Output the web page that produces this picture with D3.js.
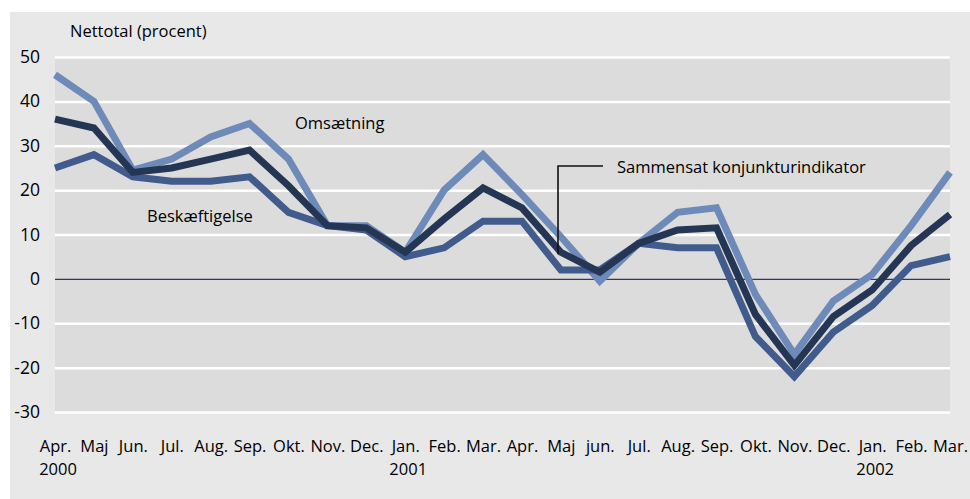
<!DOCTYPE html>
<html>
<head>
<meta charset="utf-8">
<script src="https://cdn.jsdelivr.net/npm/d3@7"></script>
<style>
  body { margin: 0; background: #fff; }
  svg text { font-family: "Open Sans", "Noto Sans", sans-serif; fill: #000; }
</style>
</head>
<body>
<script>
// months Apr 2000 .. Mar 2002
const monthLabels = ["Apr.", "Maj", "Jun.", "Jul.", "Aug.", "Sep.", "Okt.", "Nov.", "Dec.",
  "Jan.", "Feb.", "Mar.", "Apr.", "Maj", "jun.", "Jul.", "Aug.", "Sep.", "Okt.", "Nov.", "Dec.",
  "Jan.", "Feb.", "Mar."];
const yearLabels = ["2000", "2001", "2002"];
const yearAtMonth = [0, 9, 21];
const yTicks = [50, 40, 30, 20, 10, 0, -10, -20, -30];

const omsaetning    = [46, 40, 24.5, 27, 32, 35, 27, 12, 12, 6, 20, 28, 19, 9.5, -0.5, 8, 15, 16, -3.5, -17, -5, 1, 12, 24];
const sammensat     = [36, 34, 24, 25, 27, 29, 21, 12, 11.5, 6, 13.5, 20.5, 16, 6, 1.5, 8, 11, 11.5, -8, -19.5, -8.5, -2.5, 7.5, 14.5];
const beskaeftigelse = [25, 28, 23, 22, 22, 23, 15, 12, 11, 5, 7, 13, 13, 2, 2, 8, 7, 7, -13, -22, -12, -6, 3, 5];

const W = 970, H = 499;
const plot = {left: 55, right: 950, top: 57, bottom: 412};

const svg = d3.select("body").append("svg")
    .attr("width", W)
    .attr("height", H);

// outer grey panel
svg.append("rect")
    .attr("x", 10).attr("y", 12)
    .attr("width", W - 10).attr("height", H - 12)
    .attr("fill", "#e8e8e8");

// plot background
svg.append("rect")
    .attr("x", plot.left).attr("y", plot.top)
    .attr("width", plot.right - plot.left).attr("height", plot.bottom - plot.top)
    .attr("fill", "#dcdcdc");

const x = d3.scalePoint()
    .domain(d3.range(monthLabels.length))
    .range([plot.left, plot.right]);

const y = d3.scaleLinear()
    .domain([-30, 50])
    .range([plot.bottom, plot.top]);

// gridlines
const grid = svg.append("g")
    .attr("transform", `translate(${plot.left},0)`)
    .call(d3.axisLeft(y).tickValues(yTicks).tickSize(-(plot.right - plot.left)).tickFormat(""));
grid.select(".domain").remove();
grid.selectAll(".tick line")
    .attr("stroke", d => d === 0 ? "#2e3b58" : "#ffffff")
    .attr("stroke-width", d => d === 0 ? 1.2 : 2.5);

// y tick labels (plain hyphen for negatives)
const yAxis = svg.append("g")
    .attr("transform", "translate(40,0)")
    .call(d3.axisLeft(y).tickValues(yTicks).tickSize(0).tickPadding(0).tickFormat(d => String(d)));
yAxis.select(".domain").remove();
yAxis.selectAll("text")
    .attr("font-size", "17.5px")
    .attr("fill", "#000");

// x month labels
const xAxis = svg.append("g")
    .attr("transform", "translate(0,440)")
    .call(d3.axisBottom(x).tickSize(0).tickPadding(0).tickFormat(i => monthLabels[i]));
xAxis.select(".domain").remove();
xAxis.selectAll("text")
    .attr("font-size", "16.5px")
    .attr("fill", "#000");

// year labels
svg.selectAll(".year")
    .data(yearLabels)
    .enter().append("text")
    .attr("class", "year")
    .attr("x", (d, i) => x(yearAtMonth[i]) + 3)
    .attr("y", 475)
    .attr("text-anchor", "middle")
    .attr("font-size", "16.5px")
    .text(d => d);

// lines
const line = d3.line()
    .x((d, i) => x(i))
    .y(d => y(d));

const series = [
  {values: omsaetning, color: "#6e8ab9"},
  {values: beskaeftigelse, color: "#415b8c"},
  {values: sammensat, color: "#253654"}
];

svg.selectAll(".series")
    .data(series)
    .enter().append("path")
    .attr("class", "series")
    .attr("d", d => line(d.values))
    .attr("fill", "none")
    .attr("stroke", d => d.color)
    .attr("stroke-width", 7)
    .attr("stroke-linejoin", "miter");

// title
svg.append("text")
    .attr("x", 70).attr("y", 37)
    .attr("font-size", "16.5px")
    .text("Nettotal (procent)");

// series labels
svg.append("text")
    .attr("x", 295).attr("y", 129)
    .attr("font-size", "16.5px")
    .text("Omsætning");

svg.append("text")
    .attr("x", 147).attr("y", 222)
    .attr("font-size", "16.5px")
    .text("Beskæftigelse");

svg.append("text")
    .attr("x", 617).attr("y", 173)
    .attr("font-size", "16.5px")
    .text("Sammensat konjunkturindikator");

// leader line for composite indicator
svg.append("path")
    .attr("d", d3.line()([[603, 166], [558, 166], [558, y(sammensat[13]) + 2]]))
    .attr("fill", "none")
    .attr("stroke", "#111")
    .attr("stroke-width", 1.6);
</script>
</body>
</html>
